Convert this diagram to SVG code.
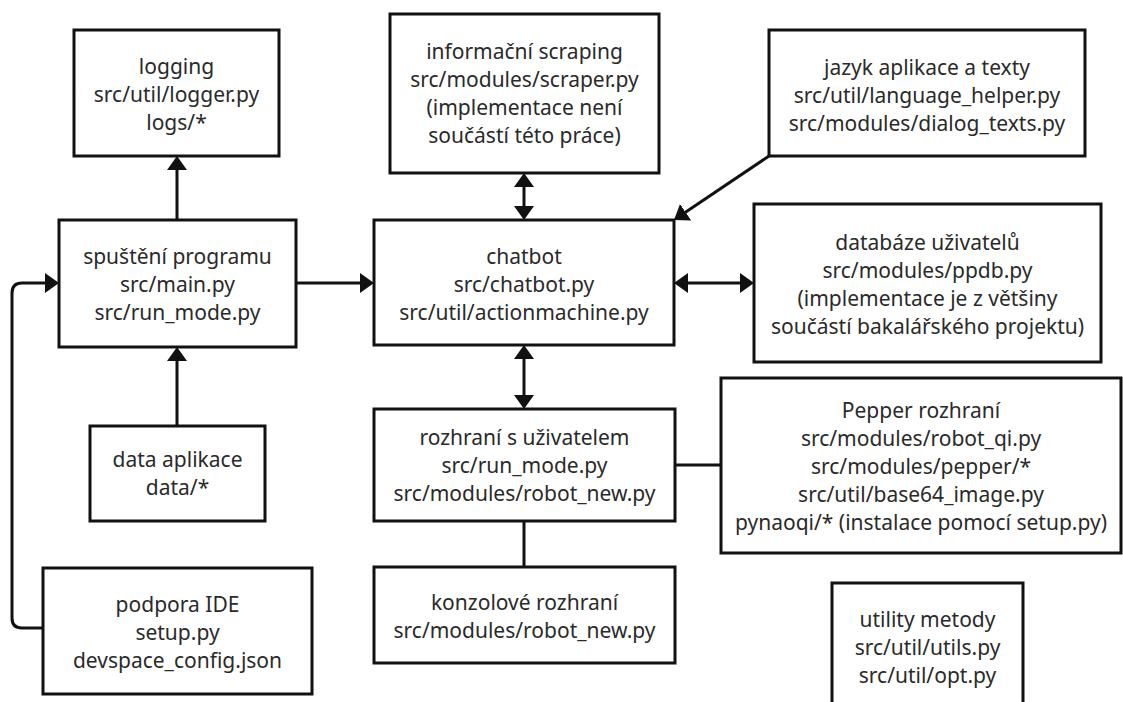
<svg xmlns="http://www.w3.org/2000/svg" width="1123" height="702" viewBox="0 0 1123 702">
<defs>
<style>
.box{fill:#fff;stroke:#111;stroke-width:3}
.lbl{font-family:"Noto Sans","Open Sans","Liberation Sans",sans-serif;font-size:21px;fill:#2a2a2a;text-anchor:middle}
.con{fill:none;stroke:#111;stroke-width:3}
</style>
<marker id="ah" viewBox="0 0 14 20" refX="2" refY="10" markerWidth="14" markerHeight="20" markerUnits="userSpaceOnUse" orient="auto-start-reverse">
<path d="M0,0 L14,10 L0,20 Z" fill="#111"/>
</marker>
</defs>
<rect width="1123" height="702" fill="#fff"/>
<g id="connectors">
<line class="con" x1="177" y1="220" x2="177" y2="168" marker-end="url(#ah)"/>
<line class="con" x1="177" y1="426" x2="177" y2="359" marker-end="url(#ah)"/>
<path class="con" d="M43,628 H22 Q12,628 12,618 V293 Q12,283 22,283 H47" marker-end="url(#ah)"/>
<line class="con" x1="296" y1="283" x2="362" y2="283" marker-end="url(#ah)"/>
<line class="con" x1="524" y1="185" x2="524" y2="208" marker-start="url(#ah)" marker-end="url(#ah)"/>
<line class="con" x1="769" y1="156" x2="683.96" y2="213.29" marker-end="url(#ah)"/>
<line class="con" x1="686" y1="283" x2="742" y2="283" marker-start="url(#ah)" marker-end="url(#ah)"/>
<line class="con" x1="524" y1="357" x2="524" y2="397" marker-start="url(#ah)" marker-end="url(#ah)"/>
<line class="con" x1="675" y1="465" x2="721" y2="465"/>
<line class="con" x1="524" y1="521" x2="524" y2="567"/>
</g>
<g id="logging">
<rect class="box" x="74" y="30" width="205" height="126"/>
<text class="lbl"><tspan x="176.5" y="74">logging</tspan><tspan x="176.5" y="102">src/util/logger.py</tspan><tspan x="176.5" y="130">logs/*</tspan></text>
</g>
<g id="scraper">
<rect class="box" x="390" y="14" width="269" height="159"/>
<text class="lbl"><tspan x="524.5" y="59">informační scraping</tspan><tspan x="524.5" y="87">src/modules/scraper.py</tspan><tspan x="524.5" y="115">(implementace není</tspan><tspan x="524.5" y="143">součástí této práce)</tspan></text>
</g>
<g id="jazyk">
<rect class="box" x="769" y="30" width="316" height="126"/>
<text class="lbl"><tspan x="927" y="75">jazyk aplikace a texty</tspan><tspan x="927" y="103">src/util/language_helper.py</tspan><tspan x="927" y="131">src/modules/dialog_texts.py</tspan></text>
</g>
<g id="spusteni">
<rect class="box" x="59" y="220" width="237" height="127"/>
<text class="lbl"><tspan x="177.5" y="264">spuštění programu</tspan><tspan x="177.5" y="292">src/main.py</tspan><tspan x="177.5" y="320">src/run_mode.py</tspan></text>
</g>
<g id="chatbot">
<rect class="box" x="374" y="220" width="300" height="125"/>
<text class="lbl"><tspan x="524" y="264">chatbot</tspan><tspan x="524" y="292">src/chatbot.py</tspan><tspan x="524" y="320">src/util/actionmachine.py</tspan></text>
</g>
<g id="databaze">
<rect class="box" x="754" y="204" width="347" height="158"/>
<text class="lbl"><tspan x="927.5" y="250">databáze uživatelů</tspan><tspan x="927.5" y="278">src/modules/ppdb.py</tspan><tspan x="927.5" y="306">(implementace je z většiny</tspan><tspan x="927.5" y="334">součástí bakalářského projektu)</tspan></text>
</g>
<g id="data">
<rect class="box" x="90" y="426" width="175" height="95"/>
<text class="lbl"><tspan x="177.5" y="467">data aplikace</tspan><tspan x="177.5" y="495">data/*</tspan></text>
</g>
<g id="rozhrani">
<rect class="box" x="374" y="409" width="301" height="112"/>
<text class="lbl"><tspan x="524.5" y="445">rozhraní s uživatelem</tspan><tspan x="524.5" y="473">src/run_mode.py</tspan><tspan x="524.5" y="501">src/modules/robot_new.py</tspan></text>
</g>
<g id="pepper">
<rect class="box" x="721" y="378" width="400" height="175"/>
<text class="lbl"><tspan x="921" y="418">Pepper rozhraní</tspan><tspan x="921" y="446">src/modules/robot_qi.py</tspan><tspan x="921" y="474">src/modules/pepper/*</tspan><tspan x="921" y="502">src/util/base64_image.py</tspan><tspan x="921" y="530">pynaoqi/* (instalace pomocí setup.py)</tspan></text>
</g>
<g id="podpora">
<rect class="box" x="43" y="568" width="269" height="126"/>
<text class="lbl"><tspan x="177.5" y="612">podpora IDE</tspan><tspan x="177.5" y="640">setup.py</tspan><tspan x="177.5" y="668">devspace_config.json</tspan></text>
</g>
<g id="konzole">
<rect class="box" x="374" y="567" width="301" height="96"/>
<text class="lbl"><tspan x="524.5" y="610">konzolové rozhraní</tspan><tspan x="524.5" y="638">src/modules/robot_new.py</tspan></text>
</g>
<g id="utility">
<rect class="box" x="832" y="583" width="191" height="130"/>
<text class="lbl"><tspan x="927.5" y="627">utility metody</tspan><tspan x="927.5" y="655">src/util/utils.py</tspan><tspan x="927.5" y="683">src/util/opt.py</tspan></text>
</g>
</svg>
